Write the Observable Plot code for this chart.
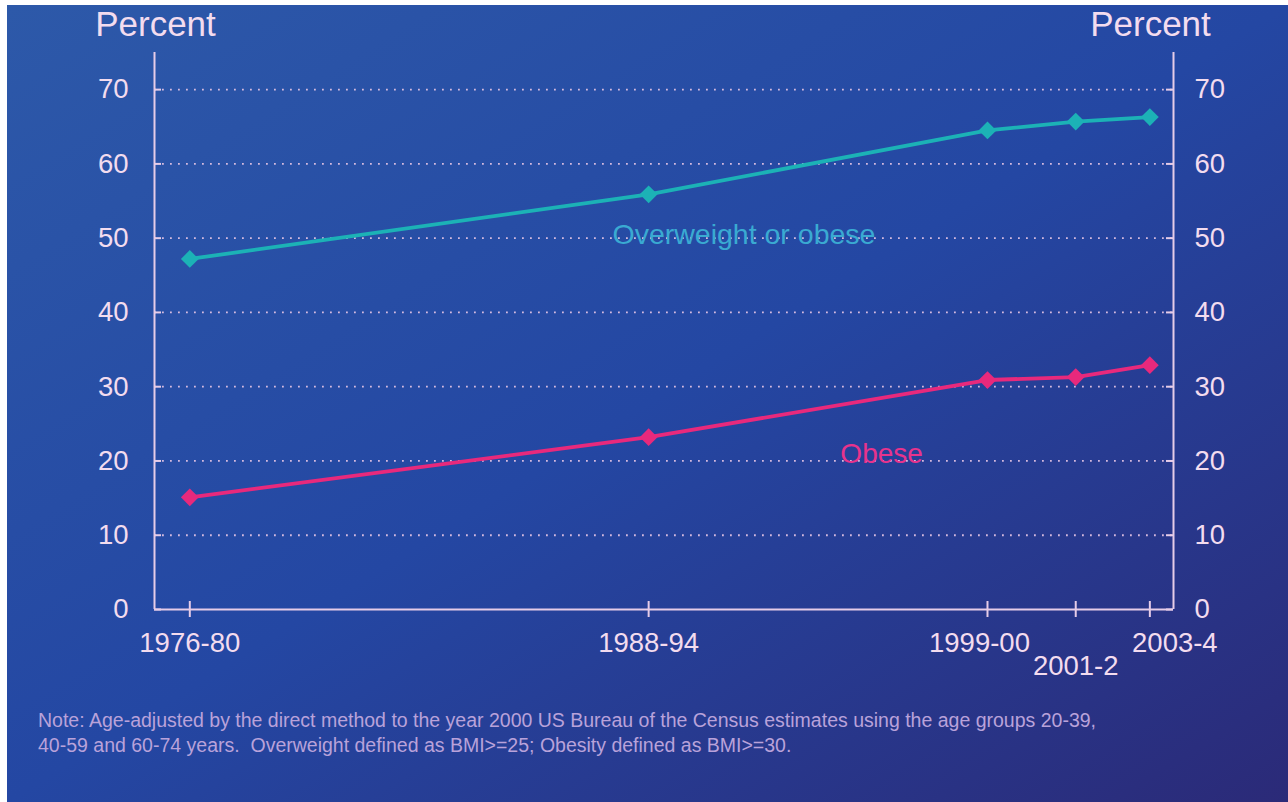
<!DOCTYPE html>
<html>
<head>
<meta charset="utf-8">
<script src="https://cdn.jsdelivr.net/npm/d3@7"></script>
<script src="https://cdn.jsdelivr.net/npm/@observablehq/plot@0.6"></script>
<style>
  html, body { margin: 0; padding: 0; background: #ffffff; }
  #frame {
    position: absolute; left: 7px; top: 5px; width: 1281px; height: 797px;
    background: linear-gradient(to bottom right, #2d59a9 0%, #2447a3 50%, #2b2a78 100%);
    overflow: hidden;
  }
  #note {
    font-family: "Liberation Sans", Arial, sans-serif;
    font-size: 19.5px; line-height: 25px; color: #b9a2da;
    margin: 13px 0 0 31px; white-space: pre;
  }
  svg { display: block; }
</style>
</head>
<body>
<div id="frame">
  <div id="chart"></div>
  <div id="note">Note: Age-adjusted by the direct method to the year 2000 US Bureau of the Census estimates using the age groups 20-39,
40-59 and 60-74 years.  Overweight defined as BMI&gt;=25; Obesity defined as BMI&gt;=30.</div>
</div>
<script>
// ---- data ----
const periods = ["1976-80", "1988-94", "1999-00", "2001-2", "2003-4"];
const periodTime = [1978, 1991, 2000.6, 2003.1, 2005.2];
const overweightOrObese = [47.2, 55.9, 64.5, 65.7, 66.3];
const obese = [15.1, 23.2, 30.9, 31.3, 32.9];
const yTicks = [0, 10, 20, 30, 40, 50, 60, 70];
const gridTicks = [10, 20, 30, 40, 50, 60, 70];
const seriesLabels = ["Overweight or obese", "Obese"];
const seriesLabelTime = [1993.7, 1997.6];
const seriesLabelValue = [50.4, 21.0];
const axisTitle = "Percent";

// ---- build tables ----
const owData = periods.map((p, i) => ({period: p, t: periodTime[i], v: overweightOrObese[i]}));
const obData = periods.map((p, i) => ({period: p, t: periodTime[i], v: obese[i]}));

const xDomain = [1977, 2005.87];
const yDomain = [0, 75];
const teal = "#1cb2b6";
const pink = "#e8297c";
const axisColor = "#e6cce8";
const textColor = "#f3dcef";
const font = "Liberation Sans, Arial, Helvetica, sans-serif";

// per-label nudges for the staggered period labels
const labelShift = {"1999-00": [-8, 0], "2001-2": [0, 23], "2003-4": [25, 0]};

const W = 1281, H = 690;
const mL = 147, mR = 115, mT = 47, mB = 86;
const pxPerX = (W - mL - mR) / (xDomain[1] - xDomain[0]);
const pxPerY = (H - mT - mB) / (yDomain[1] - yDomain[0]);
const tickInX = 7 / pxPerX;
const tickInY = 8 / pxPerY;

const periodLabelMarks = periods.map((p, i) => {
  const s = labelShift[p] || [0, 0];
  return Plot.text([p], {
    x: () => periodTime[i], y: () => 0, text: d => d,
    dx: s[0], dy: 34 + s[1], fill: textColor, fontSize: 27.5, fontFamily: font
  });
});

const chart = Plot.plot({
  width: W, height: H,
  marginLeft: mL, marginRight: mR, marginTop: mT, marginBottom: mB,
  x: {domain: xDomain, axis: null},
  y: {domain: yDomain, axis: null},
  style: {background: "transparent", fontFamily: font, overflow: "visible"},
  marks: [
    // dotted gridlines
    Plot.ruleY(gridTicks, {stroke: "#e8c6e6", strokeWidth: 1.8, strokeDasharray: "1.8,6.2", strokeOpacity: 0.9}),
    // axis frame lines
    Plot.ruleX([xDomain[0]], {y1: 0, y2: yDomain[1], stroke: axisColor, strokeWidth: 2}),
    Plot.ruleX([xDomain[1]], {y1: 0, y2: yDomain[1], stroke: axisColor, strokeWidth: 2}),
    Plot.ruleY([0], {stroke: axisColor, strokeWidth: 2}),
    // inward ticks on y axes
    Plot.ruleY(yTicks, {x1: xDomain[0], x2: xDomain[0] + tickInX, stroke: axisColor, strokeWidth: 2}),
    Plot.ruleY(yTicks, {x1: xDomain[1] - tickInX, x2: xDomain[1], stroke: axisColor, strokeWidth: 2}),
    // x ticks crossing the axis
    Plot.ruleX(periodTime, {y1: -tickInY, y2: tickInY, stroke: axisColor, strokeWidth: 2}),
    // y tick labels
    Plot.text(yTicks, {x: () => xDomain[0], y: d => d, text: d => String(d), dx: -26, textAnchor: "end", fill: textColor, fontSize: 27.5, fontFamily: font}),
    Plot.text(yTicks, {x: () => xDomain[1], y: d => d, text: d => String(d), dx: 21, textAnchor: "start", fill: textColor, fontSize: 27.5, fontFamily: font}),
    // axis titles
    Plot.text([axisTitle], {x: () => xDomain[0], y: () => yDomain[1], text: d => d, dx: 1, dy: -28, fill: textColor, fontSize: 35, fontFamily: font}),
    Plot.text([axisTitle], {x: () => xDomain[1], y: () => yDomain[1], text: d => d, dx: -23, dy: -28, fill: textColor, fontSize: 35, fontFamily: font}),
    // period labels
    ...periodLabelMarks,
    // series
    Plot.line(owData, {x: "t", y: "v", stroke: teal, strokeWidth: 3.8}),
    Plot.dot(owData, {x: "t", y: "v", symbol: "diamond2", r: 8, fill: teal, stroke: "none"}),
    Plot.line(obData, {x: "t", y: "v", stroke: pink, strokeWidth: 3.8}),
    Plot.dot(obData, {x: "t", y: "v", symbol: "diamond2", r: 8, fill: pink, stroke: "none"}),
    // series labels
    Plot.text([0], {x: () => seriesLabelTime[0], y: () => seriesLabelValue[0], text: () => seriesLabels[0], fill: "#3aaad2", fontSize: 28.5, fontFamily: font}),
    Plot.text([1], {x: () => seriesLabelTime[1], y: () => seriesLabelValue[1], text: () => seriesLabels[1], fill: "#e8338c", fontSize: 28, fontFamily: font})
  ]
});
document.getElementById("chart").appendChild(chart);
</script>
</body>
</html>
